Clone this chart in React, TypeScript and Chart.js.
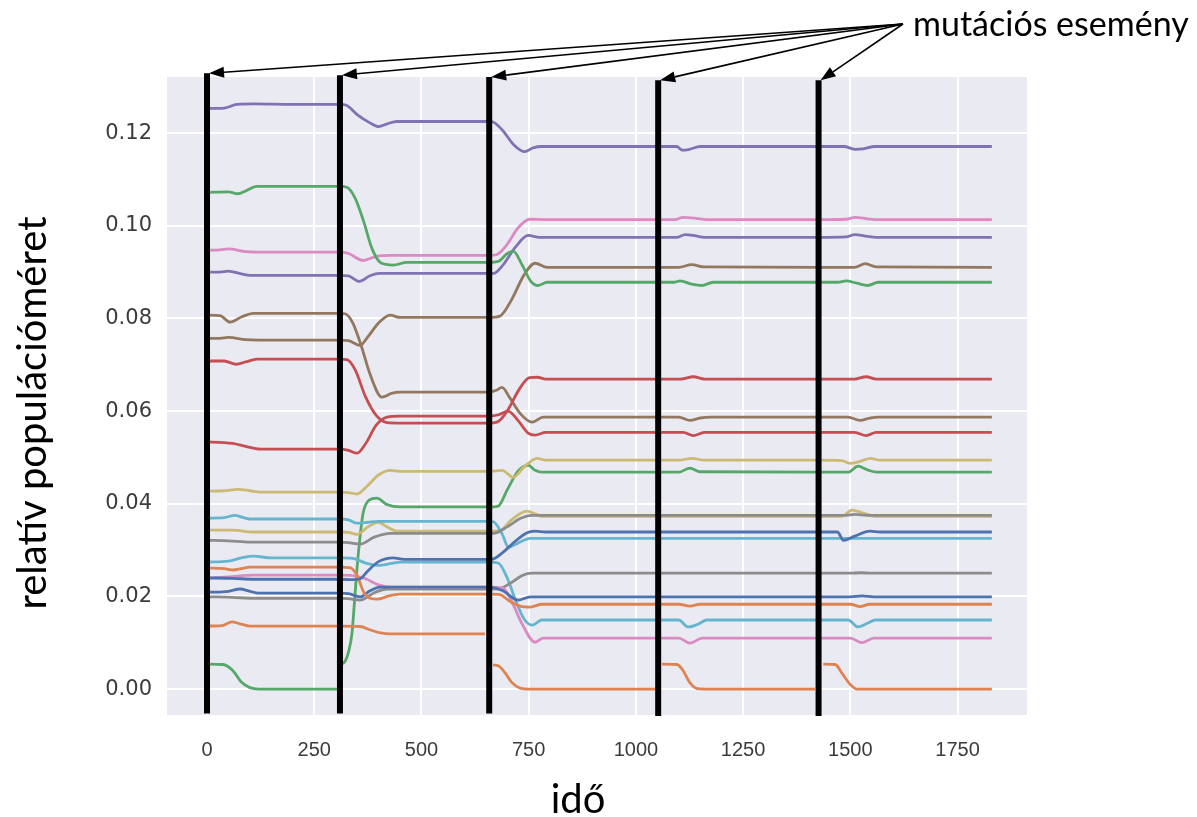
import { useEffect, useRef } from 'react';
import { Chart, registerables } from 'chart.js';

Chart.register(...registerables);

// ---- palette (seaborn "deep") ----
const BLUE = '#4C72B0';
const ORANGE = '#DD8452';
const GREEN = '#55A868';
const RED = '#C44E52';
const PURPLE = '#8172B3';
const BROWN = '#937860';
const PINK = '#DA8BC3';
const GREY = '#8C8C8C';
const OLIVE = '#CCB974';
const CYAN = '#64B5CD';

// ---- axis ticks ----
const xTicks = [0, 250, 500, 750, 1000, 1250, 1500, 1750];
const yTicks = [0, 0.02, 0.04, 0.06, 0.08, 0.1, 0.12];

// ---- mutation events ----
const eventTimes = [0, 310, 658, 1052, 1426];
const eventTops = [0.1329, 0.1325, 0.1321, 0.1314, 0.1314];
const eventBottoms = [-0.0053, -0.0053, -0.0053, -0.0058, -0.0058];

// ---- series: [time, relative population size] ----
const purpleTop: [number, number][] = [[0,.1253],[40,.1254],[70,.1262],[110,.1263],[200,.1262],[310,.1262],[325,.126],[350,.124],[380,.1222],[400,.1214],[420,.122],[443,.1225],[500,.1225],[658,.1225],[667,.1224],[690,.1205],[715,.1175],[741,.116],[760,.1168],[781,.1171],[1052,.1171],[1095,.1171],[1108,.1163],[1125,.1165],[1150,.1171],[1426,.1171],[1485,.1171],[1511,.1165],[1530,.1166],[1558,.1171],[1830,.1171]];
const greenTop: [number, number][] = [[0,.1072],[50,.1073],[72,.1069],[90,.1075],[116,.1085],[200,.1085],[310,.1085],[326,.1083],[345,.106],[365,.101],[385,.095],[405,.092],[434,.0915],[466,.0921],[658,.0921],[679,.0923],[700,.094],[714,.0945],[735,.0915],[755,.088],[772,.0871],[793,.0878],[1052,.0878],[1090,.0878],[1103,.0881],[1130,.0874],[1154,.0871],[1180,.0878],[1426,.0878],[1470,.0878],[1490,.0881],[1515,.0876],[1541,.0871],[1565,.0878],[1830,.0878]];
const pinkTop: [number, number][] = [[0,.0947],[30,.0948],[50,.095],[90,.0944],[120,.0943],[310,.0943],[330,.094],[364,.0925],[395,.0934],[427,.0936],[658,.0936],[676,.0938],[700,.096],[725,.0995],[753,.1014],[790,.1013],[1052,.1013],[1090,.1013],[1110,.1018],[1140,.1016],[1165,.1013],[1426,.1013],[1490,.1014],[1511,.1018],[1540,.1015],[1565,.1013],[1830,.1013]];
const purpleMid: [number, number][] = [[0,.09],[30,.09],[50,.0902],[80,.0896],[100,.0893],[310,.0893],[330,.0892],[355,.088],[380,.0892],[403,.0897],[658,.0897],[668,.0897],[690,.0915],[720,.0955],[749,.0979],[775,.0975],[1052,.0975],[1095,.0975],[1115,.0981],[1140,.0978],[1160,.0975],[1426,.0975],[1490,.0976],[1511,.0981],[1540,.0977],[1560,.0975],[1830,.0975]];
const brownA: [number, number][] = [[0,.0807],[30,.0806],[54,.0792],[80,.0803],[108,.0811],[310,.0811],[322,.081],[340,.079],[360,.074],[380,.068],[408,.063],[430,.0638],[450,.0641],[658,.0641],[675,.0645],[688,.0651],[705,.063],[730,.0595],[758,.0576],[784,.0587],[1052,.0587],[1100,.0587],[1126,.058],[1150,.0585],[1175,.0587],[1426,.0587],[1495,.0587],[1523,.058],[1545,.0585],[1565,.0587],[1830,.0587]];
const brownB: [number, number][] = [[0,.0757],[30,.0757],[50,.0759],[90,.0754],[120,.0753],[310,.0753],[330,.0752],[357,.0742],[375,.076],[400,.079],[427,.0807],[450,.0802],[658,.0802],[683,.0805],[710,.084],[740,.0895],[765,.0919],[793,.091],[1052,.091],[1100,.091],[1130,.0916],[1160,.0911],[1426,.091],[1510,.091],[1535,.0918],[1560,.0911],[1830,.091]];
const redA: [number, number][] = [[0,.0708],[40,.0708],[68,.0701],[90,.0706],[117,.0712],[310,.0712],[326,.0711],[345,.069],[370,.063],[395,.059],[420,.0575],[450,.0574],[658,.0574],[680,.0578],[700,.06],[730,.065],[752,.0672],[770,.0673],[790,.0669],[1052,.0669],[1105,.0669],[1134,.0674],[1160,.0669],[1426,.0669],[1510,.0669],[1537,.0674],[1560,.0669],[1830,.0669]];
const redB: [number, number][] = [[0,.0533],[40,.0532],[60,.053],[90,.0524],[124,.0518],[310,.0518],[330,.0515],[350,.0509],[370,.053],[395,.057],[420,.0587],[450,.0589],[658,.0589],[680,.0592],[702,.06],[725,.058],[748,.0553],[765,.0548],[790,.0554],[1052,.0554],[1110,.0554],[1134,.0547],[1160,.0554],[1426,.0554],[1510,.0554],[1537,.0547],[1560,.0554],[1830,.0554]];
const oliveA: [number, number][] = [[0,.0427],[40,.0428],[72,.0431],[100,.0428],[124,.0425],[310,.0425],[330,.0424],[350,.0421],[370,.0435],[400,.0462],[427,.0472],[450,.047],[658,.047],[688,.0472],[714,.0457],[740,.048],[770,.0498],[790,.0494],[1052,.0494],[1100,.0494],[1130,.0498],[1160,.0494],[1426,.0494],[1480,.0493],[1500,.0487],[1525,.0492],[1546,.0498],[1570,.0494],[1830,.0494]];
const greenNew: [number, number][] = [[310,.0052],[322,.006],[330,.008],[338,.012],[344,.019],[350,.0263],[357,.033],[364,.038],[378,.0408],[396,.0412],[420,.0398],[450,.0393],[658,.0393],[679,.0395],[700,.043],[725,.047],[749,.0483],[765,.0472],[781,.0468],[1052,.0468],[1100,.0468],[1126,.0477],[1150,.0469],[1426,.0468],[1495,.0468],[1518,.0481],[1540,.0473],[1562,.0468],[1830,.0468]];
const cyanA: [number, number][] = [[0,.0369],[40,.037],[65,.0375],[85,.037],[100,.0367],[310,.0367],[330,.0365],[350,.0358],[375,.036],[400,.0362],[658,.0362],[668,.0361],[688,.0335],[703,.0306],[725,.0315],[754,.0325],[1830,.0325]];
const oliveB: [number, number][] = [[0,.0343],[60,.0343],[108,.0339],[310,.0339],[330,.0338],[350,.0334],[375,.035],[399,.036],[420,.035],[443,.0341],[658,.0341],[683,.0342],[710,.0365],[746,.0384],[765,.0378],[781,.0373],[1052,.0373],[1480,.0373],[1504,.0386],[1530,.038],[1558,.0373],[1830,.0373]];
const greyA: [number, number][] = [[0,.0321],[50,.032],[100,.0317],[310,.0317],[330,.0316],[357,.0313],[390,.0328],[427,.0336],[658,.0336],[668,.0336],[700,.035],[730,.0368],[758,.0375],[1052,.0375],[1490,.0375],[1510,.0377],[1540,.0375],[1830,.0375]];
const cyanB: [number, number][] = [[0,.0274],[50,.0276],[80,.0283],[108,.0287],[150,.0283],[310,.0283],[340,.0282],[370,.0272],[403,.0267],[450,.0274],[658,.0274],[679,.0272],[700,.024],[720,.019],[740,.015],[758,.0138],[781,.0149],[1052,.0149],[1100,.0149],[1122,.0134],[1145,.014],[1166,.0149],[1426,.0149],[1495,.0149],[1518,.0134],[1540,.0142],[1558,.0149],[1830,.0149]];
const orangeA: [number, number][] = [[0,.0261],[40,.026],[61,.0257],[80,.026],[100,.0263],[310,.0263],[333,.0262],[350,.0245],[365,.021],[380,.0196],[399,.0194],[420,.02],[450,.0205],[658,.0205],[683,.0204],[705,.019],[730,.0179],[754,.0177],[781,.0183],[1052,.0183],[1100,.0183],[1126,.0179],[1150,.0183],[1426,.0183],[1500,.0183],[1523,.0178],[1545,.0183],[1830,.0183]];
const pinkLow: [number, number][] = [[0,.0239],[50,.0242],[108,.0246],[310,.0246],[340,.0245],[370,.0238],[400,.0225],[430,.022],[658,.022],[690,.0218],[710,.019],[735,.014],[765,.0101],[784,.011],[1052,.011],[1100,.011],[1126,.0099],[1155,.011],[1426,.011],[1500,.011],[1527,.01],[1555,.011],[1830,.011]];
const blueA: [number, number][] = [[0,.024],[60,.0239],[108,.0237],[310,.0237],[340,.0236],[357,.0238],[375,.0255],[400,.0275],[434,.0283],[460,.028],[658,.028],[668,.0281],[690,.0295],[720,.032],[745,.0337],[765,.0341],[790,.0339],[1052,.0339],[1470,.0339],[1484,.0321],[1510,.033],[1546,.0341],[1570,.0339],[1830,.0339]];
const blueB: [number, number][] = [[0,.0209],[50,.0211],[77,.0216],[100,.0211],[120,.0207],[310,.0207],[330,.0206],[357,.0199],[380,.0212],[403,.022],[658,.022],[690,.0212],[725,.0192],[754,.0199],[1500,.0199],[1527,.0201],[1555,.0199],[1830,.0199]];
const greyB: [number, number][] = [[0,.0199],[60,.0198],[100,.0196],[310,.0196],[330,.0195],[357,.0192],[390,.0208],[420,.0216],[658,.0216],[683,.0217],[710,.023],[735,.0245],[758,.025],[1500,.025],[1525,.0251],[1550,.025],[1830,.025]];
const orangeB: [number, number][] = [[0,.0136],[35,.0137],[58,.0145],[80,.014],[100,.0136],[310,.0136],[357,.0135],[380,.0128],[405,.0121],[427,.0119],[648,.0119]];
const greenLow: [number, number][] = [[0,.0054],[37,.0053],[60,.004],[80,.0015],[100,.0003],[120,0],[310,0]];
const orangeNew1: [number, number][] = [[667,.0052],[680,.005],[695,.0035],[710,.0015],[730,.0002],[750,0],[1045,0]];
const orangeNew2: [number, number][] = [[1061,.0054],[1096,.0053],[1110,.004],[1125,.0015],[1143,.0001],[1160,0],[1418,0]];
const orangeNew3: [number, number][] = [[1437,.0054],[1465,.0053],[1480,.0035],[1500,.001],[1516,0],[1830,0]];

const seriesList: { pts: [number, number][]; color: string }[] = [
  { pts: blueA, color: BLUE },
  { pts: orangeA, color: ORANGE },
  { pts: greenTop, color: GREEN },
  { pts: redA, color: RED },
  { pts: purpleTop, color: PURPLE },
  { pts: brownA, color: BROWN },
  { pts: pinkTop, color: PINK },
  { pts: greyA, color: GREY },
  { pts: oliveA, color: OLIVE },
  { pts: cyanA, color: CYAN },
  { pts: blueB, color: BLUE },
  { pts: orangeB, color: ORANGE },
  { pts: greenLow, color: GREEN },
  { pts: redB, color: RED },
  { pts: purpleMid, color: PURPLE },
  { pts: brownB, color: BROWN },
  { pts: pinkLow, color: PINK },
  { pts: greyB, color: GREY },
  { pts: oliveB, color: OLIVE },
  { pts: cyanB, color: CYAN },
  { pts: greenNew, color: GREEN },
  { pts: orangeNew1, color: ORANGE },
  { pts: orangeNew2, color: ORANGE },
  { pts: orangeNew3, color: ORANGE },
];

const X_MIN = -93.3;
const X_MAX = 1912;
const Y_MIN = -0.0056;
const Y_MAX = 0.1321;

function drawArrow(ctx: CanvasRenderingContext2D, x0: number, y0: number, x1: number, y1: number) {
  const ang = Math.atan2(y1 - y0, x1 - x0);
  const L = 15, W = 5.5;
  const bx = x1 - L * Math.cos(ang);
  const by = y1 - L * Math.sin(ang);
  ctx.beginPath();
  ctx.moveTo(x0, y0);
  ctx.lineTo(bx, by);
  ctx.stroke();
  ctx.beginPath();
  ctx.moveTo(x1, y1);
  ctx.lineTo(bx + W * Math.sin(ang), by - W * Math.cos(ang));
  ctx.lineTo(bx - W * Math.sin(ang), by + W * Math.cos(ang));
  ctx.closePath();
  ctx.fill();
}

const bgPlugin = {
  id: 'bg',
  beforeDraw(chart: any) {
    const { ctx, chartArea, width, height } = chart;
    ctx.save();
    ctx.fillStyle = '#ffffff';
    ctx.fillRect(0, 0, width, height);
    ctx.fillStyle = '#EAEAF2';
    ctx.fillRect(chartArea.left, chartArea.top, chartArea.right - chartArea.left, chartArea.bottom - chartArea.top);
    ctx.restore();
  },
};

const annotPlugin = {
  id: 'annot',
  afterDraw(chart: any) {
    const { ctx, chartArea } = chart;
    const xs = chart.scales.x;
    const ys = chart.scales.y;
    ctx.save();
    // label
    const labelX = chartArea.right - 114;
    const labelY = 36;
    ctx.fillStyle = '#000';
    ctx.font = '34px Lato';
    ctx.textAlign = 'left';
    ctx.textBaseline = 'alphabetic';
    ctx.fillText('mutációs esemény', labelX, labelY);
    // arrows
    ctx.strokeStyle = '#000';
    ctx.fillStyle = '#000';
    ctx.lineWidth = 1.6;
    const ox = labelX - 10;
    const oy = 24;
    eventTimes.forEach((t, i) => {
      const tx = xs.getPixelForValue(t) + 2;
      const ty = ys.getPixelForValue(eventTops[i]);
      drawArrow(ctx, ox, oy, tx, ty);
    });
    // axis titles
    ctx.fillStyle = '#000';
    ctx.font = '40px Lato';
    ctx.textAlign = 'center';
    ctx.textBaseline = 'alphabetic';
    ctx.fillText('idő', (chartArea.left + chartArea.right) / 2 - 19, 813);
    ctx.translate(46, (chartArea.top + chartArea.bottom) / 2 + 17);
    ctx.rotate(-Math.PI / 2);
    ctx.fillText('relatív populációméret', 0, 0);
    ctx.restore();
  },
};

export default function App() {
  const ref = useRef<HTMLCanvasElement | null>(null);
  useEffect(() => {
    document.body.style.margin = '0';
    const canvas = ref.current;
    if (!canvas) return;
    const datasets: any[] = eventTimes.map((t, i) => ({
      data: [{ x: t, y: eventBottoms[i] }, { x: t, y: eventTops[i] }],
      borderColor: '#000',
      borderWidth: 6,
      pointRadius: 0,
      clip: false,
      order: -1,
    }));
    seriesList.forEach((s) => {
      datasets.push({
        data: s.pts.map(([x, y]) => ({ x, y })),
        borderColor: s.color,
        borderWidth: 2.8,
        pointRadius: 0,
        cubicInterpolationMode: 'monotone',
        order: 1,
      });
    });
    const chart = new Chart(canvas, {
      type: 'line',
      data: { datasets },
      options: {
        animation: false,
        responsive: false,
        devicePixelRatio: 1,
        layout: { padding: { top: 77, right: 170, left: 0, bottom: 0 } },
        plugins: { legend: { display: false }, tooltip: { enabled: false } },
        events: [],
        scales: {
          x: {
            type: 'linear',
            min: X_MIN,
            max: X_MAX,
            afterBuildTicks: (s: any) => { s.ticks = xTicks.map((v) => ({ value: v })); },
            afterFit: (s: any) => { s.height = 102; },
            grid: { color: '#ffffff', lineWidth: 2, drawTicks: false },
            border: { display: false },
            ticks: {
              padding: 23,
              color: '#3c3c3c',
              font: { family: 'Liberation Sans', size: 20 },
              callback: (v: any) => String(v),
              maxRotation: 0,
            },
          },
          y: {
            type: 'linear',
            min: Y_MIN,
            max: Y_MAX,
            afterBuildTicks: (s: any) => { s.ticks = yTicks.map((v) => ({ value: v })); },
            afterFit: (s: any) => { s.width = 167; },
            grid: { color: '#ffffff', lineWidth: 2, drawTicks: false },
            border: { display: false },
            ticks: {
              padding: 15,
              color: '#3c3c3c',
              font: { family: 'DejaVu Sans', size: 21 },
              callback: (v: any) => Number(v).toFixed(2),
            },
          },
        },
      },
      plugins: [bgPlugin, annotPlugin],
    });
    return () => chart.destroy();
  }, []);
  return <canvas ref={ref} width={1197} height={817} style={{ display: 'block' }} />;
}
